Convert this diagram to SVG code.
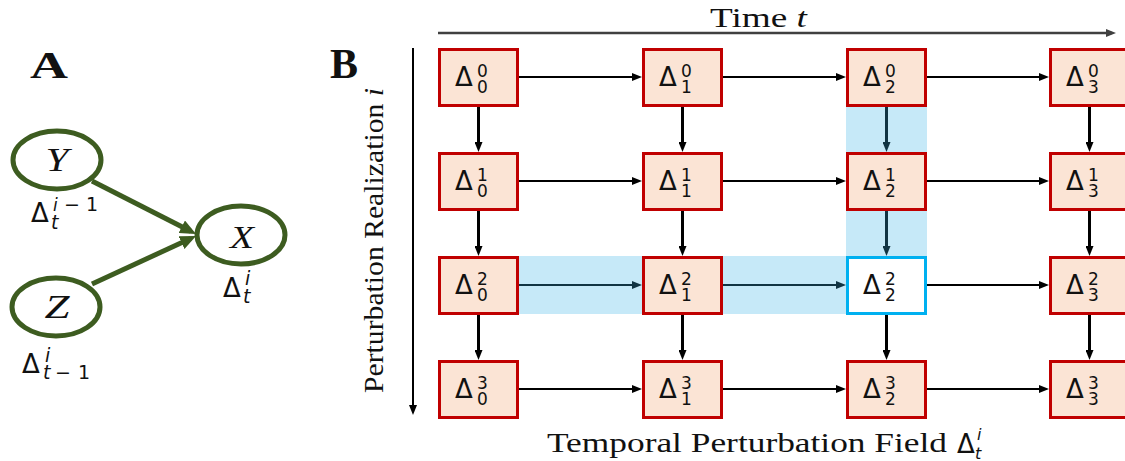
<svg xmlns="http://www.w3.org/2000/svg" width="1125" height="461" viewBox="0 0 1125 461">
<style>
.bx{fill:#fbe4d5;stroke:#c00000;stroke-width:3}
.bxh{fill:#ffffff;stroke:#00b0f0;stroke-width:3}
.d{font-family:"DejaVu Sans",sans-serif;font-size:26px;fill:#111}
.s{font-size:17px}
.it{font-style:italic}
.ser{font-family:"Liberation Serif","Times New Roman",serif;fill:#111}
.h{stroke:#000;stroke-width:2;fill:none;marker-end:url(#ah)}
.v{stroke:#000;stroke-width:3;fill:none;marker-end:url(#ah)}
.g{stroke:#3d5c20;stroke-width:5;fill:none}
.ge{fill:#fff;stroke:#3d5c20;stroke-width:5}
.band{fill:#39b4e8;opacity:0.29}
</style>
<defs>
<marker id="ah" markerWidth="10" markerHeight="8" refX="6" refY="4" orient="auto" markerUnits="userSpaceOnUse"><path d="M0,0 L10,4 L0,8 z" fill="#000"/></marker>
<marker id="ax" markerWidth="10" markerHeight="8" refX="6" refY="4" orient="auto" markerUnits="userSpaceOnUse"><path d="M0,0 L10,4 L0,8 z" fill="#404040"/></marker>
<marker id="ag" markerWidth="16" markerHeight="14" refX="10" refY="7" orient="auto" markerUnits="userSpaceOnUse"><path d="M0,0 L16,7 L0,14 z" fill="#3d5c20"/></marker>
</defs>

<!-- Panel A -->
<text class="ser" x="30" y="78" font-size="38" font-weight="bold" textLength="38" lengthAdjust="spacingAndGlyphs">A</text>
<g id="connectorsA">
<line class="g" x1="92" y1="181" x2="190.7" y2="231.3" marker-end="url(#ag)"/>
<line class="g" x1="92" y1="284" x2="190.6" y2="238.5" marker-end="url(#ag)"/>
</g>
<g id="nodeY">
<ellipse class="ge" cx="57" cy="160" rx="44" ry="29"/>
<text class="ser it" x="57" y="171" font-size="34" text-anchor="middle" textLength="23" lengthAdjust="spacingAndGlyphs">Y</text>
<text class="d" x="31" y="222" font-size="25">Δ<tspan class="s it" font-size="19" x="53" y="211">i</tspan><tspan font-size="19" x="64" y="211">−</tspan><tspan font-size="19" x="86" y="211">1</tspan><tspan class="it" font-size="19" x="51" y="229">t</tspan></text>
</g>
<g id="nodeX">
<ellipse class="ge" cx="241" cy="235" rx="44" ry="29"/>
<text class="ser it" x="242" y="248" font-size="32" text-anchor="middle" textLength="24" lengthAdjust="spacingAndGlyphs">X</text>
<text class="d" x="223" y="297" font-size="25">Δ<tspan class="it" font-size="19" x="245" y="285">i</tspan><tspan class="it" font-size="19" x="243" y="303">t</tspan></text>
</g>
<g id="nodeZ">
<ellipse class="ge" cx="56" cy="307" rx="44" ry="29"/>
<text class="ser it" x="57" y="318" font-size="34" text-anchor="middle" textLength="25" lengthAdjust="spacingAndGlyphs">Z</text>
<text class="d" x="22" y="373" font-size="25">Δ<tspan class="it" font-size="19" x="45" y="362">i</tspan><tspan class="it" font-size="19" x="43" y="379">t</tspan><tspan font-size="19" x="55" y="379">−</tspan><tspan font-size="19" x="78" y="379">1</tspan></text>
</g>

<!-- Panel B -->
<text class="ser" x="330" y="78" font-size="42" font-weight="bold">B</text>
<text class="ser" x="710" y="27" font-size="27" textLength="97" lengthAdjust="spacingAndGlyphs">Time <tspan class="it">t</tspan></text>
<text class="ser" transform="translate(383,393) rotate(-90)" x="0" y="0" font-size="27" textLength="305" lengthAdjust="spacingAndGlyphs">Perturbation Realization <tspan class="it">i</tspan></text>
<text class="ser" x="547" y="452" font-size="28" textLength="400" lengthAdjust="spacingAndGlyphs">Temporal Perturbation Field</text>
<text class="d" x="957" y="453" font-size="22">Δ<tspan class="it" font-size="16" x="977" y="440">i</tspan><tspan class="it" font-size="16" x="975" y="459">t</tspan></text>

<g id="axes">
<line x1="438" y1="33" x2="1112" y2="33" stroke="#404040" stroke-width="2.5" marker-end="url(#ax)"/>
<line x1="413" y1="48" x2="413" y2="411" stroke="#000" stroke-width="2" marker-end="url(#ah)"/>
</g>

<g id="connectors">
<line class="h" x1="519" y1="77" x2="638" y2="77"/>
<line class="h" x1="723" y1="77" x2="842" y2="77"/>
<line class="h" x1="927" y1="77" x2="1045" y2="77"/>
<line class="h" x1="519" y1="181" x2="638" y2="181"/>
<line class="h" x1="723" y1="181" x2="842" y2="181"/>
<line class="h" x1="927" y1="181" x2="1045" y2="181"/>
<line class="h" x1="519" y1="285" x2="638" y2="285"/>
<line class="h" x1="723" y1="285" x2="842" y2="285"/>
<line class="h" x1="927" y1="285" x2="1045" y2="285"/>
<line class="h" x1="519" y1="389" x2="638" y2="389"/>
<line class="h" x1="723" y1="389" x2="842" y2="389"/>
<line class="h" x1="927" y1="389" x2="1045" y2="389"/>
<line class="v" x1="478.5" y1="107" x2="478.5" y2="148"/>
<line class="v" x1="478.5" y1="211" x2="478.5" y2="252"/>
<line class="v" x1="478.5" y1="315" x2="478.5" y2="356"/>
<line class="v" x1="682.5" y1="107" x2="682.5" y2="148"/>
<line class="v" x1="682.5" y1="211" x2="682.5" y2="252"/>
<line class="v" x1="682.5" y1="315" x2="682.5" y2="356"/>
<line class="v" x1="886.5" y1="107" x2="886.5" y2="148"/>
<line class="v" x1="886.5" y1="211" x2="886.5" y2="252"/>
<line class="v" x1="886.5" y1="315" x2="886.5" y2="356"/>
<line class="v" x1="1089.5" y1="107" x2="1089.5" y2="148"/>
<line class="v" x1="1089.5" y1="211" x2="1089.5" y2="252"/>
<line class="v" x1="1089.5" y1="315" x2="1089.5" y2="356"/>
</g>

<g id="highlight">
<rect class="band" x="438" y="256" width="408" height="58"/>
<rect class="band" x="846" y="107" width="81" height="149"/>
</g>

<g id="n00"><rect class="bx" x="439.5" y="49.5" width="78" height="56"/><text class="d" x="455" y="86">Δ<tspan class="s" x="477" y="77">0</tspan><tspan class="s" x="477" y="93">0</tspan></text></g>
<g id="n01"><rect class="bx" x="643.5" y="49.5" width="78" height="56"/><text class="d" x="659" y="86">Δ<tspan class="s" x="681" y="77">0</tspan><tspan class="s" x="681" y="93">1</tspan></text></g>
<g id="n02"><rect class="bx" x="847.5" y="49.5" width="78" height="56"/><text class="d" x="863" y="86">Δ<tspan class="s" x="885" y="77">0</tspan><tspan class="s" x="885" y="93">2</tspan></text></g>
<g id="n03"><rect class="bx" x="1050.5" y="49.5" width="78" height="56"/><text class="d" x="1066" y="86">Δ<tspan class="s" x="1088" y="77">0</tspan><tspan class="s" x="1088" y="93">3</tspan></text></g>

<g id="n10"><rect class="bx" x="439.5" y="153.5" width="78" height="56"/><text class="d" x="455" y="190">Δ<tspan class="s" x="477" y="181">1</tspan><tspan class="s" x="477" y="197">0</tspan></text></g>
<g id="n11"><rect class="bx" x="643.5" y="153.5" width="78" height="56"/><text class="d" x="659" y="190">Δ<tspan class="s" x="681" y="181">1</tspan><tspan class="s" x="681" y="197">1</tspan></text></g>
<g id="n12"><rect class="bx" x="847.5" y="153.5" width="78" height="56"/><text class="d" x="863" y="190">Δ<tspan class="s" x="885" y="181">1</tspan><tspan class="s" x="885" y="197">2</tspan></text></g>
<g id="n13"><rect class="bx" x="1050.5" y="153.5" width="78" height="56"/><text class="d" x="1066" y="190">Δ<tspan class="s" x="1088" y="181">1</tspan><tspan class="s" x="1088" y="197">3</tspan></text></g>

<g id="n20"><rect class="bx" x="439.5" y="257.5" width="78" height="56"/><text class="d" x="455" y="294">Δ<tspan class="s" x="477" y="285">2</tspan><tspan class="s" x="477" y="301">0</tspan></text></g>
<g id="n21"><rect class="bx" x="643.5" y="257.5" width="78" height="56"/><text class="d" x="659" y="294">Δ<tspan class="s" x="681" y="285">2</tspan><tspan class="s" x="681" y="301">1</tspan></text></g>
<g id="n22"><rect class="bxh" x="847.5" y="257.5" width="78" height="56"/><text class="d" x="863" y="294">Δ<tspan class="s" x="885" y="285">2</tspan><tspan class="s" x="885" y="301">2</tspan></text></g>
<g id="n23"><rect class="bx" x="1050.5" y="257.5" width="78" height="56"/><text class="d" x="1066" y="294">Δ<tspan class="s" x="1088" y="285">2</tspan><tspan class="s" x="1088" y="301">3</tspan></text></g>

<g id="n30"><rect class="bx" x="439.5" y="361.5" width="78" height="56"/><text class="d" x="455" y="398">Δ<tspan class="s" x="477" y="389">3</tspan><tspan class="s" x="477" y="405">0</tspan></text></g>
<g id="n31"><rect class="bx" x="643.5" y="361.5" width="78" height="56"/><text class="d" x="659" y="398">Δ<tspan class="s" x="681" y="389">3</tspan><tspan class="s" x="681" y="405">1</tspan></text></g>
<g id="n32"><rect class="bx" x="847.5" y="361.5" width="78" height="56"/><text class="d" x="863" y="398">Δ<tspan class="s" x="885" y="389">3</tspan><tspan class="s" x="885" y="405">2</tspan></text></g>
<g id="n33"><rect class="bx" x="1050.5" y="361.5" width="78" height="56"/><text class="d" x="1066" y="398">Δ<tspan class="s" x="1088" y="389">3</tspan><tspan class="s" x="1088" y="405">3</tspan></text></g>
</svg>
